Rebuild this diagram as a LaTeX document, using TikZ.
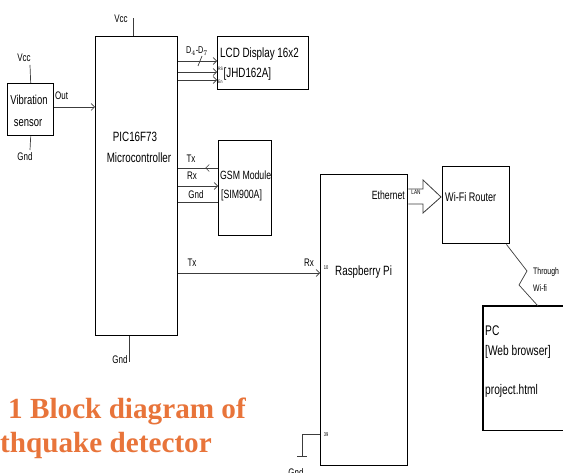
\documentclass[tikz,border=0pt]{standalone}
\usepackage{fontspec}
\setmainfont{Liberation Sans}[FakeStretch=0.73]
\newfontfamily\capfont{Liberation Serif}
\usetikzlibrary{arrows.meta,calc,decorations.markings}
\definecolor{capcol}{RGB}{232,116,58}
\definecolor{wirecol}{RGB}{60,60,60}
\newcommand{\fs}[1]{\fontsize{#1}{#1}\selectfont}
\begin{document}
\begin{tikzpicture}[x=1bp,y=-1bp,
  blk/.style={draw=black,line width=1.4bp,inner sep=0pt,anchor=north west},
  wire/.style={draw=wirecol,line width=0.7bp},
  tipv/.tip={Straight Barb[length=3.5bp,width=7bp,line width=0.6bp]},
  arr/.style={wire,-tipv},
  txt/.style={inner sep=0pt,anchor=base west,font=\fs{13.5}},
  ctxt/.style={inner sep=0pt,anchor=base,font=\fs{13.5}},
  lbl/.style={inner sep=0pt,anchor=base,font=\fs{11}},
  tiny/.style={inner sep=0pt,anchor=base,font=\fs{5.5}},
  captxt/.style={inner sep=0pt,anchor=base west,text=capcol,font=\capfont\bfseries\fontsize{29.3}{29.3}\selectfont}
]
\useasboundingbox (0,0) rectangle (563,473);
\clip (0,0) rectangle (563,473);

% ---- blocks ----
\node[blk,minimum width=46bp,minimum height=52bp] (vib) at (7,83) {};
\node[blk,minimum width=82bp,minimum height=299bp] (pic) at (95,36) {};
\node[blk,minimum width=91bp,minimum height=53bp] (lcd) at (217,36) {};
\node[blk,minimum width=53bp,minimum height=95bp] (gsm) at (218,140) {};
\node[blk,minimum width=87bp,minimum height=291bp] (rpi) at (320,174) {};
\node[blk,minimum width=67bp,minimum height=77bp] (router) at (442,166) {};
\node[inner sep=0pt,anchor=north west,minimum width=80bp,minimum height=124bp] (pc) at (483,306) {};
\draw[line width=1.4bp] ($(pc.north east)+(20,0)$) -- (pc.north west) -- (pc.south west) -- ($(pc.south east)+(20,0)$);

% ---- block texts ----
\node[ctxt,font=\fs{13}] (t1) at (29,105) {Vibration};
\node[ctxt,font=\fs{13}] (t2) at (28,127) {sensor};
\node[ctxt] (t3) at (135,142) {PIC16F73};
\node[ctxt] (t4) at (139,163) {Microcontroller};
\node[txt] (t5) at (220,58) {LCD Display 16x2};
\node[txt] (t6) at (223.5,78) {[JHD162A]};
\node[txt,font=\fs{12}] (t7) at (220,180) {GSM Module};
\node[txt,font=\fs{12}] (t8) at (221,199) {[SIM900A]};
\node[txt] (t9) at (335,276) {Raspberry Pi};
\node[txt,font=\fs{12.5}] (t10) at (445,202) {Wi-Fi Router};
\node[txt,font=\fs{14}] (t11) at (485,335) {PC};
\node[txt,font=\fs{14}] (t12) at (485,355) {[Web browser]};
\node[txt,font=\fs{14}] (t13) at (485,394) {project.html};

% ---- sensor supply ----
\coordinate (vibVcc) at (30,65);
\coordinate (vibGnd) at (30,150);
\draw[wire] (vib.north) -- (vibVcc);
\draw[wire] (vib.south) -- (vibGnd);
\node[lbl] (l1) at (24,62) {Vcc};
\node[lbl] (l2) at (25,161) {Gnd};

% ---- sensor out ----
\coordinate (yOut) at (0,107);
\draw[arr] (vib.east |- yOut) -- (pic.west |- yOut);
\node[lbl,anchor=base west] (l3) at (55,100) {Out};

% ---- PIC supply ----
\coordinate (picVcc) at (133,18);
\coordinate (picGnd) at (129,362);
\draw[wire] (pic.north -| picVcc) -- (picVcc);
\draw[wire] (pic.south -| picGnd) -- (picGnd);
\node[lbl] (l4) at (121,23) {Vcc};
\node[lbl] (l5) at (120,363) {Gnd};

% ---- LCD bus ----
\coordinate (yD) at (0,61);
\coordinate (yRS) at (0,72);
\coordinate (yEn) at (0,80);
\draw[arr] (pic.east |- yD) -- (lcd.west |- yD);
\draw[arr] (pic.east |- yRS) -- (lcd.west |- yRS);
\draw[arr] (pic.east |- yEn) -- (lcd.west |- yEn);
\coordinate (sl1) at (198,66);
\coordinate (sl2) at (202,56);
\draw[wire] (sl1) -- (sl2);
\node[lbl,font=\fs{10}] (l6) at (197,54) {D$_{4}$-D$_{7}$};
\node[tiny,font=\fs{4.8},anchor=base west] (l7) at (218,71) {RS};
\node[tiny,font=\fs{4.8},anchor=base west] (l8) at (218,84) {En};

% ---- GSM lines ----
\coordinate (yTx) at (0,168);
\coordinate (yRx) at (0,186);
\coordinate (yG) at (0,202);
\draw[wire,postaction={decorate},decoration={markings,mark=at position 0.32 with {\arrow{tipv}}}]
  (gsm.west |- yTx) -- (pic.east |- yTx);
\draw[arr] (pic.east |- yRx) -- (gsm.west |- yRx);
\draw[wire] (pic.east |- yG) -- (gsm.west |- yG);
\node[lbl] (l9) at (191,163) {Tx};
\node[lbl] (l10) at (192,180) {Rx};
\node[lbl] (l11) at (196,199) {Gnd};

% ---- serial to Raspberry Pi ----
\coordinate (ySer) at (0,273);
\draw[arr] (pic.east |- ySer) -- (rpi.west |- ySer);
\node[lbl] (l12) at (192,267) {Tx};
\node[lbl] (l13) at (309,267) {Rx};
\node[tiny] (l14) at (326,270) {10};

% ---- Raspberry Pi ground ----
\coordinate (g39) at (302,434);
\coordinate (gbot) at (302,456);
\draw[wire] (rpi.west |- g39) -- (g39) -- (gbot);
\draw[wire] ($(gbot)+(-5,0)$) -- ($(gbot)+(5,0)$);
\node[tiny] (l15) at (326,436) {39};
\node[lbl] (l16) at (296,476) {Gnd};

% ---- Ethernet / LAN ----
\coordinate (yLan) at (0,197);
\coordinate (lanS) at (rpi.east |- yLan);
\coordinate (lanE) at (router.west |- yLan);
\draw[wire,line width=0.8bp,fill=white]
  ($(lanS)+(0,-8)$) -- ($(lanE)+(-19,-8)$) -- ($(lanE)+(-19,-17)$) -- ($(lanE)+(-1,0)$)
  -- ($(lanE)+(-19,16)$) -- ($(lanE)+(-19,7)$) -- ($(lanS)+(0,7)$);
\node[lbl,anchor=base east,font=\fs{12}] (l17) at (405,200) {Ethernet};
\node[tiny,font=\fs{6.5}] (l18) at (416,195) {LAN};

% ---- Wi-Fi link ----
\coordinate (z0) at ($(router.south east)+(-4,0)$);
\coordinate (z1) at (527,271);
\coordinate (z2) at (519,285);
\coordinate (z3) at (pc.north -| 538,0);
\draw[wire] (z0) -- (z1) -- (z2) -- (z3);
\node[lbl,anchor=base west,font=\fs{9.5}] (l19) at (533,275) {Through};
\node[lbl,anchor=base west,font=\fs{9.5}] (l20) at (533,291) {Wi-fi};

% ---- caption ----
\node[captxt] (c1) at (8,418) {1 Block diagram of};
\node[captxt] (c2) at (0,452) {thquake detector};
\end{tikzpicture}
\end{document}
